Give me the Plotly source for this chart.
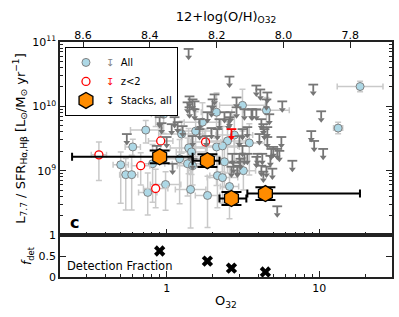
import numpy as np
import plotly.graph_objects as go

# ---------------- data (log10 values) ----------------
det_log_o32 = [-0.072, -0.020, -0.137, 0.098, -0.222, 0.144, 0.163, 1.268, 1.124, 0.497,
               0.654, 0.327, 0.235, 0.542, 0.399, 0.327, -0.301, -0.268, -0.229, -0.092,
               -0.124, -0.007, 0.085, 0.137, 0.170, 0.157, 0.268, 0.333, 0.366, 0.412,
               0.503, 0.379, 0.190, 0.444, 0.366]
det_log_ratio = [9.938, 9.877, 9.631, 9.569, 9.369, 9.354, 9.292, 10.308, 9.662, 10.015,
                 9.938, 9.908, 9.754, 9.431, 9.462, 9.369, 9.092, 8.938, 8.938, 9.108,
                 8.662, 8.785, 9.185, 9.108, 9.077, 8.708, 8.615, 8.923, 8.892, 8.754,
                 9.000, 9.138, 9.615, 9.554, 9.385]
det_xerr = [0.10, 0.08, 0.10, 0.15, 0.05, 0.12, 0.10, 0.15, 0.03, 0.15,
            0.15, 0.10, 0.12, 0.10, 0.12, 0.15, 0.05, 0.04, 0.04, 0.08,
            0.06, 0.10, 0.15, 0.10, 0.10, 0.10, 0.08, 0.05, 0.10, 0.06,
            0.08, 0.12, 0.10, 0.12, 0.10]
det_yerr_lo = [0.25, 0.30, 0.20, 0.30, 0.15, 0.40, 0.35, 0.08, 0.09, 0.40,
               0.30, 0.40, 0.40, 0.50, 0.50, 0.60, 0.60, 0.55, 0.55, 0.60,
               0.35, 0.40, 0.70, 0.50, 0.30, 0.60, 0.50, 0.50, 0.40, 0.50,
               0.30, 0.40, 0.40, 0.40, 0.40]
det_yerr_hi = [0.15, 0.20, 0.15, 0.20, 0.12, 0.30, 0.25, 0.08, 0.09, 0.25,
               0.20, 0.30, 0.30, 0.30, 0.30, 0.30, 0.20, 0.25, 0.30, 0.30,
               0.30, 0.20, 0.30, 0.40, 0.30, 0.30, 0.30, 0.30, 0.30, 0.30,
               0.20, 0.30, 0.30, 0.30, 0.30]

lowz_log_o32 = [-0.608, -0.444, -0.170, -0.072, -0.039, 0.255]
lowz_log_ratio = [10.154, 9.246, 9.077, 8.723, 9.462, 9.446]
lowz_xerr = [0.05, 0.05, 0.06, 0.08, 0.08, 0.10]
lowz_yerr_lo = [0.15, 0.40, 0.30, 0.30, 0.30, 0.20]
lowz_yerr_hi = [0.25, 0.20, 0.20, 0.30, 0.20, 0.20]

lim_log_o32 = [0.144, 0.412, 0.588, 0.614, 0.660, 0.654, 0.758, 0.961, 1.013, 0.458,
               0.458, 0.418, 0.405, 0.556, 0.588, 0.621, 0.634, 0.660, 0.660, 0.608,
               0.752, 0.699, 0.739, 0.686, 0.627, 0.595, 0.588, 0.654, 0.634, 0.824,
               0.948, 0.967, 1.026, 0.529, 0.497, 0.477, 0.497, 0.477, 0.431, 0.425,
               0.464, 0.484, 0.529, 0.725, 0.680, 0.137, 0.150, 0.052, 0.033, 0.301,
               0.294, 0.183, 0.268, 0.346, 0.216, 0.216, 0.294, 0.261, -0.046, -0.033,
               0.105, 0.150, 0.183, 0.314, 0.170, 0.510, 0.562, 0.673, 0.379, 0.072,
               0.412, 0.333, 0.641, 0.000, 0.170, -0.320, -0.261, -0.065, 0.039, 0.170,
               0.621, 0.693, 0.725, 0.510, 0.464, 0.438]
lim_log_ratio = [10.892, 10.462, 10.323, 10.262, 10.215, 10.108, 10.077, 10.338, 9.923, 10.138,
                 9.985, 9.908, 9.800, 9.954, 9.954, 9.800, 9.723, 9.677, 9.523, 9.569,
                 9.523, 9.369, 9.308, 9.338, 9.262, 9.262, 9.215, 9.062, 8.985, 9.154,
                 9.615, 9.462, 9.338, 9.677, 9.646, 9.538, 9.385, 9.262, 9.262, 9.062,
                 9.062, 9.185, 9.262, 8.446, 9.231, 10.062, 9.985, 9.831, 9.723, 10.108,
                 10.000, 9.954, 9.908, 9.800, 9.800, 9.646, 9.662, 9.538, 9.831, 9.738,
                 9.692, 10.154, 10.077, 10.185, 10.108, 9.954, 9.954, 9.877, 9.908, 9.754,
                 9.831, 9.646, 9.646, 9.523, 9.538, 10.185, 9.569, 9.385, 9.108, 9.185,
                 9.077, 9.031, 9.338, 9.262, 9.077, 9.123]

lowz_lim_log_o32 = [0.425]
lowz_lim_log_ratio = [9.646]

stack_o32 = [0.90, 1.85, 2.66, 4.44]
stack_o32_lo = [0.24, 1.48, 2.22, 3.38]
stack_o32_hi = [1.48, 2.22, 3.33, 18.5]
stack_ratio = [1.64e9, 1.43e9, 0.37e9, 0.44e9]
stack_err_dex = [0.10, 0.10, 0.10, 0.10]
det_fraction = [0.62, 0.38, 0.21, 0.12]

top_ticks = [8.6, 8.4, 8.2, 8.0, 7.8]
ylabels_main = ["10<sup>9</sup>", "10<sup>10</sup>", "10<sup>11</sup>"]

# ---------------- helpers ----------------
def lin(a):
    return 10 ** np.asarray(a, dtype=float)

def err_pair(logv, lo, hi):
    v = lin(logv)
    return v - lin(np.asarray(logv) - np.asarray(lo)), lin(np.asarray(logv) + np.asarray(hi)) - v

GREY_ERR = "#c9c9c9"
ARROW = "#767676"
FONT = "DejaVu Sans"

fig = go.Figure()

# detections
xm, xp = err_pair(det_log_o32, det_xerr, det_xerr)
ym, yp = err_pair(det_log_ratio, det_yerr_lo, det_yerr_hi)
fig.add_trace(go.Scatter(
    x=lin(det_log_o32), y=lin(det_log_ratio), mode="markers", xaxis="x", yaxis="y",
    marker=dict(symbol="circle", size=8, color="#add8e6", line=dict(color="#808080", width=1)),
    error_x=dict(type="data", symmetric=False, array=xp, arrayminus=xm, color=GREY_ERR, thickness=1.5, width=3),
    error_y=dict(type="data", symmetric=False, array=yp, arrayminus=ym, color=GREY_ERR, thickness=1.5, width=3),
    name="<span style='color:#808080'>↧</span>  All", showlegend=True))

# low-z detections
xm, xp = err_pair(lowz_log_o32, lowz_xerr, lowz_xerr)
ym, yp = err_pair(lowz_log_ratio, lowz_yerr_lo, lowz_yerr_hi)
fig.add_trace(go.Scatter(
    x=lin(lowz_log_o32), y=lin(lowz_log_ratio), mode="markers", xaxis="x", yaxis="y",
    marker=dict(symbol="circle", size=8, color="white", line=dict(color="red", width=1.3)),
    error_x=dict(type="data", symmetric=False, array=xp, arrayminus=xm, color=GREY_ERR, thickness=1.5, width=3),
    error_y=dict(type="data", symmetric=False, array=yp, arrayminus=ym, color=GREY_ERR, thickness=1.5, width=3),
    name="<span style='color:red'>↧</span>  z<2", showlegend=True))

# upper limits (cap + shaft + head)
ARROW_DEX = 0.13
def add_limits(logx, logy, color):
    x = lin(logx)
    y = lin(logy)
    shaft = y - lin(np.asarray(logy) - ARROW_DEX * 0.85)
    fig.add_trace(go.Scatter(
        x=x, y=y, mode="markers", xaxis="x", yaxis="y", showlegend=False, hoverinfo="skip",
        marker=dict(symbol="line-ew", size=7, line=dict(color=color, width=1.8)),
        error_y=dict(type="data", symmetric=False, array=np.zeros(len(y)), arrayminus=shaft,
                     color=color, thickness=1.8, width=0)))
    fig.add_trace(go.Scatter(
        x=x, y=lin(np.asarray(logy) - ARROW_DEX), mode="markers", xaxis="x", yaxis="y",
        showlegend=False, hoverinfo="skip",
        marker=dict(symbol="triangle-down", size=6, color=color, line=dict(width=0))))

add_limits(lim_log_o32, lim_log_ratio, ARROW)
add_limits(lowz_lim_log_o32, lowz_lim_log_ratio, "red")

# stacks
so = np.array(stack_o32)
sr = np.array(stack_ratio)
fig.add_trace(go.Scatter(
    x=so, y=sr, mode="markers", xaxis="x", yaxis="y",
    marker=dict(symbol="hexagon", size=16, color="#ff8c00", line=dict(color="black", width=1.3)),
    error_x=dict(type="data", symmetric=False, array=np.array(stack_o32_hi) - so,
                 arrayminus=so - np.array(stack_o32_lo), color="black", thickness=2, width=4),
    error_y=dict(type="data", symmetric=False, array=sr * (10 ** np.array(stack_err_dex) - 1),
                 arrayminus=sr * (1 - 10 ** -np.array(stack_err_dex)), color="black", thickness=2, width=10),
    name="<span style='color:black'>↧</span>  Stacks, all", showlegend=True))

# detection fraction
fig.add_trace(go.Scatter(
    x=so, y=det_fraction, mode="markers", xaxis="x2", yaxis="y2", showlegend=False,
    marker=dict(symbol="x", size=10, color="black", line=dict(width=0))))

# invisible trace for top axis
fig.add_trace(go.Scatter(x=[top_ticks[0]], y=[1e9], xaxis="x3", yaxis="y", mode="markers",
                         marker=dict(opacity=0), showlegend=False, hoverinfo="skip"))

XR = [np.log10(0.2), np.log10(30)]
minor_x = [0.2, 0.3, 0.4, 0.5, 0.6, 0.7, 0.8, 0.9, 2, 3, 4, 5, 6, 7, 8, 9, 20, 30]
minor_y = [m * 10 ** e for e in (8, 9, 10) for m in range(2, 10)]
LINE = "#222222"

common_x = dict(type="log", range=XR, showgrid=False, zeroline=False, showline=True,
                linecolor=LINE, linewidth=1.5, mirror=True, ticks="inside", ticklen=6,
                tickwidth=1, tickcolor=LINE, tickmode="array", tickvals=[1, 10],
                automargin=False,
                minor=dict(ticks="inside", ticklen=3, tickcolor=LINE, tickvals=minor_x))

fig.update_layout(
    width=399, height=317, plot_bgcolor="white", paper_bgcolor="white",
    margin=dict(l=60, r=7, t=42, b=40, autoexpand=False),
    font=dict(family=FONT, size=11, color="black"),
    xaxis=dict(common_x, anchor="y", showticklabels=False),
    xaxis2=dict(common_x, anchor="y2", showticklabels=True, ticktext=["1", "10"],
                tickfont=dict(size=11),
                title=dict(text="O<sub>32</sub>", font=dict(size=13), standoff=2)),
    xaxis3=dict(overlaying="x", side="top", anchor="y", range=[8.669, 7.675], automargin=False,
                showgrid=False, zeroline=False, showline=False, ticks="inside", ticklen=6,
                tickcolor=LINE, tickmode="array", tickvals=top_ticks,
                ticktext=[f"{v:.1f}" for v in top_ticks], tickfont=dict(size=11),
                title=dict(text="12+log(O/H)<sub>O32</sub>", font=dict(size=13), standoff=4)),
    yaxis=dict(type="log", domain=[0.1787, 1], range=[8, 11], showgrid=False, zeroline=False,
               showline=True, linecolor=LINE, linewidth=1.5, mirror="ticks", ticks="inside",
               ticklen=6, tickcolor=LINE, tickmode="array", tickvals=[1e9, 1e10, 1e11],
               ticktext=ylabels_main, tickfont=dict(size=11), automargin=False,
               minor=dict(ticks="inside", ticklen=3, tickcolor=LINE, tickvals=minor_y),
               title=dict(text="L<sub>7.7</sub> / SFR<sub>Hα,Hβ</sub> [L<sub>⊙</sub>/M<sub>⊙</sub> yr<sup>−1</sup>]",
                          font=dict(size=13), standoff=4)),
    yaxis2=dict(domain=[0, 0.1787], range=[0, 1], showgrid=False, zeroline=False,
                showline=True, linecolor=LINE, linewidth=1.5, mirror="ticks", ticks="inside",
                ticklen=6, tickcolor=LINE, tickmode="array", tickvals=[0, 0.5, 1],
                ticktext=["0", "0.5", "1"], tickfont=dict(size=11), automargin=False,
                title=dict(text="<i>f</i><sub>det</sub>", font=dict(size=12), standoff=4)),
    legend=dict(x=0.015, y=0.979, xanchor="left", yanchor="top", bgcolor="white",
                bordercolor="black", borderwidth=1, font=dict(size=10), tracegroupgap=0,
                itemsizing="trace", itemwidth=30),
    annotations=[
        dict(text="<b>c</b>", x=0.045, y=0.234, xref="paper", yref="paper", showarrow=False,
             font=dict(size=16), xanchor="center", yanchor="middle"),
        dict(text="Detection Fraction", x=0.016, y=0.047, xref="paper", yref="paper",
             showarrow=False, font=dict(size=11.5), xanchor="left", yanchor="middle"),
    ],
)

fig.write_html("out.html", config={"displayModeBar": False},
               post_script="document.body.style.margin='0';")
